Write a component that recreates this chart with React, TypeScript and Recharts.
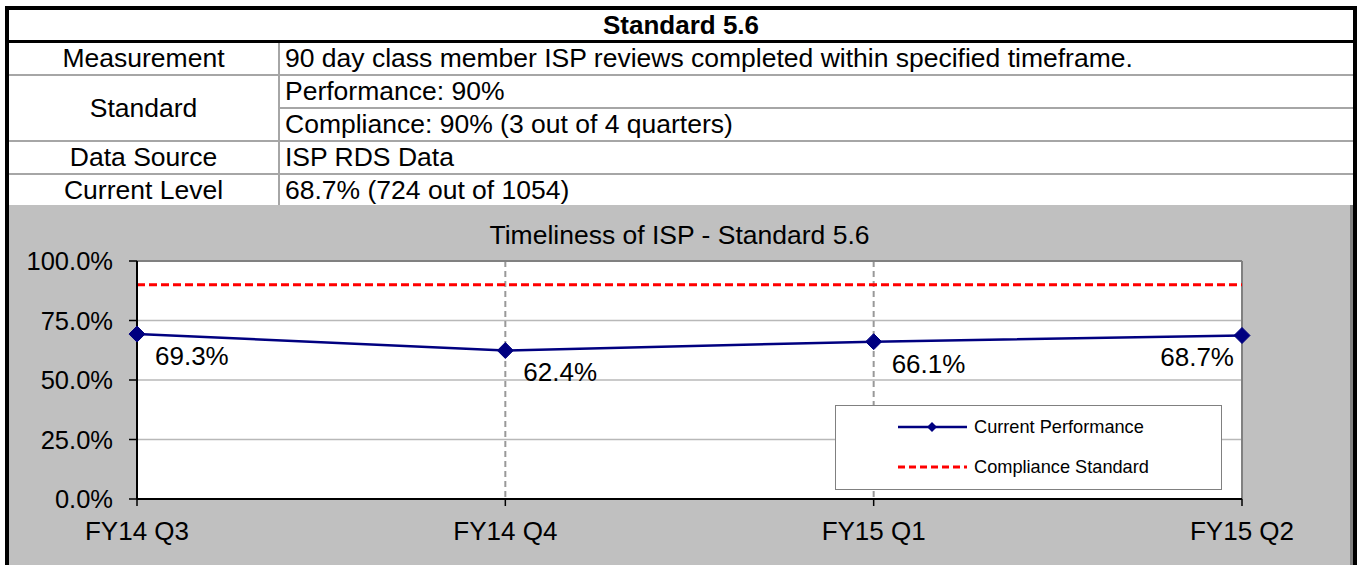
import React from 'react';
import { LineChart, Line, XAxis, YAxis, CartesianGrid, ReferenceLine } from 'recharts';

const quarters = ['FY14 Q3', 'FY14 Q4', 'FY15 Q1', 'FY15 Q2'];
const currentPerformance = [69.3, 62.4, 66.1, 68.7];
const complianceStandard = [90, 90, 90, 90];
const yTicks = [0, 25, 50, 75, 100];

const headerTitle = 'Standard 5.6';
const chartTitle = 'Timeliness of ISP - Standard 5.6';
const seriesNames = ['Current Performance', 'Compliance Standard'];
const infoRows = [
  { label: 'Measurement', values: ['90 day class member ISP reviews completed within specified timeframe.'] },
  { label: 'Standard', values: ['Performance: 90%', 'Compliance: 90% (3 out of 4 quarters)'] },
  { label: 'Data Source', values: ['ISP RDS Data'] },
  { label: 'Current Level', values: ['68.7% (724 out of 1054)'] },
];

const data = quarters.map((q, i) => ({
  quarter: q,
  current: currentPerformance[i],
  standard: complianceStandard[i],
}));

const FONT = '"Liberation Sans", Arial, sans-serif';
const NAVY = '#000080';
const RED = '#ff0000';
const ROW_H = 31;
const LINE_H = 2;

function Diamond(props: any) {
  const { cx, cy, index } = props;
  if (cx == null || cy == null) return null;
  const r = 8;
  return (
    <path
      key={`dot-${index}`}
      d={`M${cx},${cy - r} L${cx + r},${cy} L${cx},${cy + r} L${cx - r},${cy} Z`}
      fill={NAVY}
      stroke={NAVY}
    />
  );
}

function PointLabel(props: any) {
  const { x, y, value, index } = props;
  const last = index === quarters.length - 1;
  return (
    <text
      key={`lbl-${index}`}
      x={last ? x - 8 : x + 18}
      y={y + 31}
      textAnchor={last ? 'end' : 'start'}
      fontSize={26}
      fontFamily={FONT}
      fill="#000"
    >
      {`${value.toFixed(1)}%`}
    </text>
  );
}

function InfoTable() {
  let top = 43;
  const rows: React.ReactNode[] = [];
  infoRows.forEach((row, ri) => {
    const h = row.values.length * ROW_H + (row.values.length - 1) * LINE_H;
    rows.push(
      <div key={`l-${ri}`} style={{ position: 'absolute', left: 9, top, width: 269, height: h, display: 'flex', alignItems: 'center', justifyContent: 'center' }}>
        {row.label}
      </div>
    );
    row.values.forEach((v, vi) => {
      const t = top + vi * (ROW_H + LINE_H);
      rows.push(
        <div key={`v-${ri}-${vi}`} style={{ position: 'absolute', left: 285, top: t, height: ROW_H, display: 'flex', alignItems: 'center', whiteSpace: 'nowrap' }}>
          {v}
        </div>
      );
      if (vi < row.values.length - 1) {
        rows.push(<div key={`s-${ri}-${vi}`} style={{ position: 'absolute', left: 280, top: t + ROW_H, width: 1073, height: LINE_H, background: '#a6a6a6' }} />);
      }
    });
    top += h;
    if (ri < infoRows.length - 1) {
      rows.push(<div key={`r-${ri}`} style={{ position: 'absolute', left: 9, top, width: 1344, height: LINE_H, background: '#a6a6a6' }} />);
      top += LINE_H;
    }
  });
  rows.push(<div key="col" style={{ position: 'absolute', left: 278, top: 43, width: 2, height: top - 43, background: '#a6a6a6' }} />);
  rows.push(<div key="bottom" style={{ position: 'absolute', left: 9, top, width: 1344, height: 2, background: '#000' }} />);
  return <>{rows}</>;
}

export default function App() {
  return (
    <div style={{ position: 'absolute', left: 0, top: 0, width: 1357, height: 565, overflow: 'hidden', background: '#fff', fontFamily: FONT, fontSize: 26.5, color: '#000' }}>
      {/* outer frame */}
      <div style={{ position: 'absolute', left: 5, top: 6, width: 1352, height: 620, border: '4px solid #000', boxSizing: 'border-box' }} />
      {/* header */}
      <div style={{ position: 'absolute', left: 9, top: 10, width: 1344, height: 30, display: 'flex', alignItems: 'center', justifyContent: 'center', fontWeight: 'bold', fontSize: 26 }}>
        {headerTitle}
      </div>
      <div style={{ position: 'absolute', left: 9, top: 40, width: 1344, height: 3, background: '#000' }} />
      <InfoTable />

      {/* chart area */}
      <div style={{ position: 'absolute', left: 9, top: 205, width: 1341, height: 400, background: '#c0c0c0' }} />
      <div style={{ position: 'absolute', left: 1350, top: 205, width: 3, height: 400, background: '#808080' }} />
      <div style={{ position: 'absolute', left: 9, top: 221, width: 1341, height: 28, display: 'flex', alignItems: 'center', justifyContent: 'center', fontSize: 26.5 }}>
        {chartTitle}
      </div>

      <div style={{ position: 'absolute', left: 9, top: 205 }}>
        <LineChart width={1341} height={360} data={data} margin={{ top: 56, right: 108, bottom: 16, left: 0 }}>
          <CartesianGrid horizontal={true} vertical={false} stroke="#b8b8b8" strokeWidth={1.5} fill="#ffffff" />
          <CartesianGrid horizontal={false} vertical={true} stroke="#999999" strokeWidth={2} strokeDasharray="6 4" />
          <XAxis
            dataKey="quarter"
            interval={0}
            padding={{ left: 0, right: 0 }}
            height={50}
            tickSize={7}
            tickMargin={16}
            axisLine={{ stroke: '#000', strokeWidth: 2 }}
            tickLine={{ stroke: '#000', strokeWidth: 1.5 }}
            tick={{ fill: '#000', fontSize: 26, fontFamily: FONT }}
          />
          <YAxis
            domain={[0, 100]}
            ticks={yTicks}
            width={128}
            tickSize={8}
            tickMargin={16}
            tickFormatter={(v: number) => `${v.toFixed(1)}%`}
            axisLine={{ stroke: '#000', strokeWidth: 2 }}
            tickLine={{ stroke: '#000', strokeWidth: 1.5 }}
            tick={{ fill: '#000', fontSize: 25.5, fontFamily: FONT }}
          />
          <ReferenceLine y={100} stroke="#808080" strokeWidth={2} />
          <ReferenceLine x={quarters[quarters.length - 1]} stroke="#808080" strokeWidth={2} />
          <Line
            dataKey="standard"
            name={seriesNames[1]}
            stroke={RED}
            strokeWidth={3}
            strokeDasharray="8 4"
            dot={false}
            activeDot={false}
            isAnimationActive={false}
          />
          <Line
            dataKey="current"
            name={seriesNames[0]}
            stroke={NAVY}
            strokeWidth={2.5}
            dot={Diamond}
            activeDot={false}
            label={PointLabel}
            isAnimationActive={false}
          />
        </LineChart>
      </div>

      {/* legend */}
      <div style={{ position: 'absolute', left: 835, top: 405, width: 387, height: 85, background: '#fff', border: '1.5px solid #808080', boxSizing: 'border-box', fontSize: 18.2 }}>
        <svg width={140} height={85} style={{ position: 'absolute', left: 0, top: 0 }}>
          <line x1={62} x2={131} y1={21} y2={21} stroke={NAVY} strokeWidth={2.5} />
          <path d="M96,16 L101,21 L96,26 L91,21 Z" fill={NAVY} />
          <line x1={62} x2={131} y1={61} y2={61} stroke={RED} strokeWidth={3} strokeDasharray="7 4" />
        </svg>
        <div style={{ position: 'absolute', left: 138, top: 10, height: 22, display: 'flex', alignItems: 'center', whiteSpace: 'nowrap' }}>{seriesNames[0]}</div>
        <div style={{ position: 'absolute', left: 138, top: 50, height: 22, display: 'flex', alignItems: 'center', whiteSpace: 'nowrap' }}>{seriesNames[1]}</div>
      </div>
    </div>
  );
}
